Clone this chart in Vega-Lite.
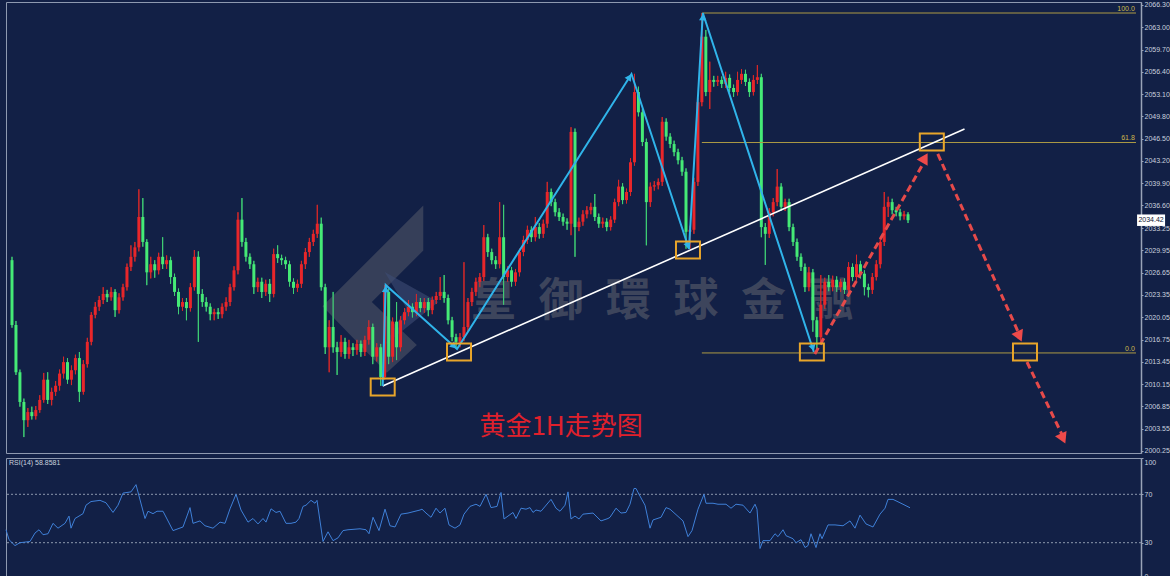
{
"$schema":"https://vega.github.io/schema/vega-lite/v6.json",
"background":"#122046",
"padding":{"left":3,"top":0,"right":0,"bottom":0},
"spacing":2,
"config":{"view":{"stroke":"#8e99b0","strokeWidth":1},"axis":{"grid":false,"domainColor":"#9aa4b8","domainWidth":1.5,"tickColor":"#9aa4b8","tickSize":2,"labelColor":"#c9d1de","labelFont":"Liberation Sans","labelFontSize":7,"labelPadding":1,"labelOverlap":false}},
"datasets":{
"candles":[
{"i":0,"o":2028.5,"h":2029.0,"l":2018.5,"c":2018.9},{"i":1,"o":2018.9,"h":2019.5,"l":2011.5,"c":2011.9},{"i":2,"o":2011.9,"h":2012.3,"l":2006.8,"c":2007.5},{"i":3,"o":2007.5,"h":2008.0,"l":2002.3,"c":2004.8},{"i":4,"o":2004.8,"h":2006.6,"l":2003.8,"c":2006.0},{"i":5,"o":2006.0,"h":2006.8,"l":2004.9,"c":2005.4},{"i":6,"o":2005.4,"h":2006.9,"l":2004.9,"c":2006.3},{"i":7,"o":2006.3,"h":2008.5,"l":2005.9,"c":2007.8},{"i":8,"o":2007.8,"h":2011.8,"l":2007.4,"c":2010.8},{"i":9,"o":2010.8,"h":2011.9,"l":2007.2,"c":2007.8},
{"i":10,"o":2007.8,"h":2009.6,"l":2007.0,"c":2009.0},{"i":11,"o":2009.0,"h":2010.6,"l":2008.4,"c":2009.9},{"i":12,"o":2009.9,"h":2012.3,"l":2009.2,"c":2011.7},{"i":13,"o":2011.7,"h":2014.2,"l":2011.0,"c":2013.4},{"i":14,"o":2013.4,"h":2014.0,"l":2010.2,"c":2010.8},{"i":15,"o":2010.8,"h":2012.9,"l":2010.0,"c":2012.2},{"i":16,"o":2012.2,"h":2014.5,"l":2011.6,"c":2014.0},{"i":17,"o":2014.0,"h":2014.9,"l":2007.5,"c":2009.0},{"i":18,"o":2009.0,"h":2013.7,"l":2008.6,"c":2013.1},{"i":19,"o":2013.1,"h":2017.0,"l":2012.6,"c":2016.4},
{"i":20,"o":2016.4,"h":2020.8,"l":2015.9,"c":2020.4},{"i":21,"o":2020.4,"h":2022.3,"l":2019.9,"c":2021.6},{"i":22,"o":2021.6,"h":2023.2,"l":2021.0,"c":2022.6},{"i":23,"o":2022.6,"h":2024.5,"l":2022.0,"c":2023.5},{"i":24,"o":2023.5,"h":2024.1,"l":2022.3,"c":2023.0},{"i":25,"o":2023.0,"h":2024.5,"l":2022.5,"c":2023.8},{"i":26,"o":2023.8,"h":2024.2,"l":2020.1,"c":2021.1},{"i":27,"o":2021.1,"h":2023.6,"l":2020.6,"c":2023.0},{"i":28,"o":2023.0,"h":2025.0,"l":2022.5,"c":2024.5},{"i":29,"o":2024.5,"h":2028.0,"l":2024.0,"c":2027.5},
{"i":30,"o":2027.5,"h":2030.7,"l":2026.9,"c":2029.0},{"i":31,"o":2029.0,"h":2031.2,"l":2028.3,"c":2030.4},{"i":32,"o":2030.4,"h":2039.0,"l":2029.8,"c":2034.9},{"i":33,"o":2034.9,"h":2037.7,"l":2030.5,"c":2031.2},{"i":34,"o":2031.2,"h":2031.6,"l":2024.8,"c":2026.7},{"i":35,"o":2026.7,"h":2029.0,"l":2025.8,"c":2027.9},{"i":36,"o":2027.9,"h":2028.5,"l":2025.9,"c":2027.0},{"i":37,"o":2027.0,"h":2029.6,"l":2026.4,"c":2029.0},{"i":38,"o":2029.0,"h":2031.9,"l":2027.2,"c":2027.9},{"i":39,"o":2027.9,"h":2029.2,"l":2027.2,"c":2028.5},
{"i":40,"o":2028.5,"h":2029.0,"l":2025.0,"c":2026.0},{"i":41,"o":2026.0,"h":2026.5,"l":2023.2,"c":2023.8},{"i":42,"o":2023.8,"h":2024.3,"l":2020.5,"c":2021.6},{"i":43,"o":2021.6,"h":2022.9,"l":2021.0,"c":2022.3},{"i":44,"o":2022.3,"h":2022.9,"l":2019.6,"c":2021.4},{"i":45,"o":2021.4,"h":2025.1,"l":2020.9,"c":2024.5},{"i":46,"o":2024.5,"h":2030.0,"l":2024.0,"c":2029.0},{"i":47,"o":2029.0,"h":2029.8,"l":2016.4,"c":2023.5},{"i":48,"o":2023.5,"h":2024.2,"l":2021.6,"c":2022.3},{"i":49,"o":2022.3,"h":2023.0,"l":2020.9,"c":2021.6},
{"i":50,"o":2021.6,"h":2022.1,"l":2019.6,"c":2020.5},{"i":51,"o":2020.5,"h":2021.3,"l":2019.6,"c":2020.8},{"i":52,"o":2020.8,"h":2021.4,"l":2019.8,"c":2020.5},{"i":53,"o":2020.5,"h":2022.1,"l":2019.9,"c":2021.6},{"i":54,"o":2021.6,"h":2023.0,"l":2021.0,"c":2022.3},{"i":55,"o":2022.3,"h":2025.0,"l":2021.7,"c":2024.5},{"i":56,"o":2024.5,"h":2027.6,"l":2024.0,"c":2027.0},{"i":57,"o":2027.0,"h":2035.6,"l":2026.4,"c":2034.5},{"i":58,"o":2034.5,"h":2037.7,"l":2030.5,"c":2031.2},{"i":59,"o":2031.2,"h":2031.8,"l":2028.3,"c":2029.0},
{"i":60,"o":2029.0,"h":2029.5,"l":2027.2,"c":2027.9},{"i":61,"o":2027.9,"h":2028.4,"l":2023.5,"c":2024.5},{"i":62,"o":2024.5,"h":2025.9,"l":2023.8,"c":2025.3},{"i":63,"o":2025.3,"h":2025.9,"l":2022.9,"c":2023.8},{"i":64,"o":2023.8,"h":2025.6,"l":2023.2,"c":2025.0},{"i":65,"o":2025.0,"h":2025.7,"l":2022.3,"c":2023.5},{"i":66,"o":2023.5,"h":2030.2,"l":2023.0,"c":2029.4},{"i":67,"o":2029.4,"h":2030.7,"l":2028.1,"c":2028.8},{"i":68,"o":2028.8,"h":2029.3,"l":2027.8,"c":2028.5},{"i":69,"o":2028.5,"h":2029.0,"l":2027.2,"c":2027.9},
{"i":70,"o":2027.9,"h":2028.4,"l":2024.6,"c":2025.3},{"i":71,"o":2025.3,"h":2025.8,"l":2023.5,"c":2024.4},{"i":72,"o":2024.4,"h":2025.6,"l":2023.8,"c":2025.0},{"i":73,"o":2025.0,"h":2028.4,"l":2024.4,"c":2027.9},{"i":74,"o":2027.9,"h":2030.3,"l":2027.2,"c":2029.7},{"i":75,"o":2029.7,"h":2031.8,"l":2029.0,"c":2031.2},{"i":76,"o":2031.2,"h":2033.0,"l":2030.6,"c":2032.4},{"i":77,"o":2032.4,"h":2036.7,"l":2031.8,"c":2033.9},{"i":78,"o":2033.9,"h":2034.8,"l":2024.0,"c":2024.5},{"i":79,"o":2024.5,"h":2025.0,"l":2014.6,"c":2015.6},
{"i":80,"o":2015.6,"h":2019.6,"l":2011.9,"c":2018.6},{"i":81,"o":2018.6,"h":2023.8,"l":2014.8,"c":2015.6},{"i":82,"o":2015.6,"h":2016.4,"l":2011.5,"c":2014.9},{"i":83,"o":2014.9,"h":2017.4,"l":2014.2,"c":2016.4},{"i":84,"o":2016.4,"h":2017.0,"l":2013.9,"c":2014.6},{"i":85,"o":2014.6,"h":2016.7,"l":2013.9,"c":2015.6},{"i":86,"o":2015.6,"h":2016.2,"l":2014.3,"c":2015.2},{"i":87,"o":2015.2,"h":2016.7,"l":2014.5,"c":2016.1},{"i":88,"o":2016.1,"h":2016.6,"l":2014.2,"c":2014.9},{"i":89,"o":2014.9,"h":2017.3,"l":2014.3,"c":2016.7},
{"i":90,"o":2016.7,"h":2019.6,"l":2016.0,"c":2018.6},{"i":91,"o":2018.6,"h":2019.1,"l":2013.1,"c":2014.2},{"i":92,"o":2014.2,"h":2016.2,"l":2013.5,"c":2015.6},{"i":93,"o":2015.6,"h":2016.1,"l":2009.9,"c":2011.2},{"i":94,"o":2011.2,"h":2024.8,"l":2010.8,"c":2023.8},{"i":95,"o":2023.8,"h":2024.3,"l":2013.1,"c":2014.2},{"i":96,"o":2014.2,"h":2020.0,"l":2013.4,"c":2019.4},{"i":97,"o":2019.4,"h":2022.3,"l":2013.7,"c":2015.6},{"i":98,"o":2015.6,"h":2020.2,"l":2015.0,"c":2019.6},{"i":99,"o":2019.6,"h":2021.4,"l":2019.0,"c":2020.8},
{"i":100,"o":2020.8,"h":2022.6,"l":2020.2,"c":2021.6},{"i":101,"o":2021.6,"h":2022.1,"l":2020.0,"c":2020.8},{"i":102,"o":2020.8,"h":2023.5,"l":2020.2,"c":2022.3},{"i":103,"o":2022.3,"h":2022.9,"l":2020.8,"c":2021.4},{"i":104,"o":2021.4,"h":2022.9,"l":2020.7,"c":2022.3},{"i":105,"o":2022.3,"h":2022.9,"l":2020.2,"c":2021.1},{"i":106,"o":2021.1,"h":2023.1,"l":2020.5,"c":2022.6},{"i":107,"o":2022.6,"h":2023.8,"l":2022.0,"c":2023.2},{"i":108,"o":2023.2,"h":2026.0,"l":2022.6,"c":2023.8},{"i":109,"o":2023.8,"h":2026.3,"l":2022.2,"c":2022.9},
{"i":110,"o":2022.9,"h":2023.4,"l":2019.0,"c":2019.6},{"i":111,"o":2019.6,"h":2020.1,"l":2016.5,"c":2017.1},{"i":112,"o":2017.1,"h":2017.6,"l":2015.5,"c":2016.4},{"i":113,"o":2016.4,"h":2017.7,"l":2015.6,"c":2017.1},{"i":114,"o":2017.1,"h":2028.2,"l":2016.5,"c":2018.6},{"i":115,"o":2018.6,"h":2022.9,"l":2018.0,"c":2022.3},{"i":116,"o":2022.3,"h":2024.4,"l":2021.7,"c":2023.8},{"i":117,"o":2023.8,"h":2025.9,"l":2023.2,"c":2025.3},{"i":118,"o":2025.3,"h":2026.6,"l":2024.5,"c":2026.0},{"i":119,"o":2026.0,"h":2033.7,"l":2025.4,"c":2031.9},
{"i":120,"o":2031.9,"h":2032.4,"l":2029.0,"c":2029.7},{"i":121,"o":2029.7,"h":2030.2,"l":2027.9,"c":2028.5},{"i":122,"o":2028.5,"h":2029.1,"l":2027.2,"c":2027.9},{"i":123,"o":2027.9,"h":2037.1,"l":2027.3,"c":2031.9},{"i":124,"o":2031.9,"h":2036.7,"l":2021.9,"c":2026.0},{"i":125,"o":2026.0,"h":2027.6,"l":2025.3,"c":2027.0},{"i":126,"o":2027.0,"h":2027.5,"l":2024.6,"c":2025.3},{"i":127,"o":2025.3,"h":2027.2,"l":2024.7,"c":2026.7},{"i":128,"o":2026.7,"h":2030.2,"l":2026.1,"c":2029.7},{"i":129,"o":2029.7,"h":2032.1,"l":2029.1,"c":2031.5},
{"i":130,"o":2031.5,"h":2033.6,"l":2030.9,"c":2033.0},{"i":131,"o":2033.0,"h":2033.5,"l":2031.2,"c":2031.9},{"i":132,"o":2031.9,"h":2034.9,"l":2031.3,"c":2033.4},{"i":133,"o":2033.4,"h":2034.0,"l":2031.7,"c":2032.4},{"i":134,"o":2032.4,"h":2034.5,"l":2031.8,"c":2033.9},{"i":135,"o":2033.9,"h":2040.1,"l":2033.3,"c":2038.6},{"i":136,"o":2038.6,"h":2039.1,"l":2036.5,"c":2037.1},{"i":137,"o":2037.1,"h":2037.6,"l":2035.0,"c":2035.6},{"i":138,"o":2035.6,"h":2036.2,"l":2034.3,"c":2034.9},{"i":139,"o":2034.9,"h":2035.4,"l":2033.6,"c":2034.2},
{"i":140,"o":2034.2,"h":2034.7,"l":2033.0,"c":2033.9},{"i":141,"o":2033.9,"h":2048.2,"l":2032.2,"c":2047.5},{"i":142,"o":2047.5,"h":2048.0,"l":2029.0,"c":2033.4},{"i":143,"o":2033.4,"h":2034.8,"l":2032.8,"c":2034.2},{"i":144,"o":2034.2,"h":2035.9,"l":2033.6,"c":2035.3},{"i":145,"o":2035.3,"h":2036.5,"l":2034.7,"c":2035.9},{"i":146,"o":2035.9,"h":2037.0,"l":2035.3,"c":2036.4},{"i":147,"o":2036.4,"h":2038.3,"l":2034.3,"c":2034.9},{"i":148,"o":2034.9,"h":2035.4,"l":2033.3,"c":2033.9},{"i":149,"o":2033.9,"h":2034.8,"l":2033.3,"c":2034.2},
{"i":150,"o":2034.2,"h":2034.7,"l":2032.8,"c":2033.4},{"i":151,"o":2033.4,"h":2035.0,"l":2032.9,"c":2034.5},{"i":152,"o":2034.5,"h":2037.6,"l":2034.0,"c":2037.1},{"i":153,"o":2037.1,"h":2040.4,"l":2036.5,"c":2039.4},{"i":154,"o":2039.4,"h":2039.9,"l":2036.8,"c":2037.4},{"i":155,"o":2037.4,"h":2039.1,"l":2036.9,"c":2038.6},{"i":156,"o":2038.6,"h":2043.6,"l":2038.0,"c":2043.0},{"i":157,"o":2043.0,"h":2056.1,"l":2042.5,"c":2053.4},{"i":158,"o":2053.4,"h":2054.2,"l":2049.8,"c":2050.4},{"i":159,"o":2050.4,"h":2050.9,"l":2045.4,"c":2046.0},
{"i":160,"o":2046.0,"h":2046.5,"l":2030.7,"c":2037.1},{"i":161,"o":2037.1,"h":2040.0,"l":2036.4,"c":2039.4},{"i":162,"o":2039.4,"h":2040.2,"l":2038.8,"c":2039.6},{"i":163,"o":2039.6,"h":2040.6,"l":2039.0,"c":2040.1},{"i":164,"o":2040.1,"h":2049.7,"l":2039.5,"c":2049.0},{"i":165,"o":2049.0,"h":2049.5,"l":2046.2,"c":2046.8},{"i":166,"o":2046.8,"h":2047.3,"l":2045.1,"c":2045.7},{"i":167,"o":2045.7,"h":2046.2,"l":2043.9,"c":2044.5},{"i":168,"o":2044.5,"h":2045.0,"l":2042.7,"c":2043.3},{"i":169,"o":2043.3,"h":2043.8,"l":2041.0,"c":2041.6},
{"i":170,"o":2041.6,"h":2042.1,"l":2030.2,"c":2032.7},{"i":171,"o":2032.7,"h":2033.6,"l":2030.2,"c":2033.0},{"i":172,"o":2033.0,"h":2040.7,"l":2032.4,"c":2040.1},{"i":173,"o":2040.1,"h":2052.5,"l":2039.5,"c":2051.9},{"i":174,"o":2051.9,"h":2065.1,"l":2051.3,"c":2061.6},{"i":175,"o":2061.6,"h":2062.6,"l":2052.8,"c":2053.4},{"i":176,"o":2053.4,"h":2057.9,"l":2050.9,"c":2055.2},{"i":177,"o":2055.2,"h":2055.8,"l":2054.2,"c":2054.9},{"i":178,"o":2054.9,"h":2055.8,"l":2054.3,"c":2055.2},{"i":179,"o":2055.2,"h":2055.7,"l":2054.0,"c":2054.6},
{"i":180,"o":2054.6,"h":2056.4,"l":2054.0,"c":2055.5},{"i":181,"o":2055.5,"h":2056.0,"l":2053.4,"c":2054.0},{"i":182,"o":2054.0,"h":2054.5,"l":2052.7,"c":2053.4},{"i":183,"o":2053.4,"h":2056.4,"l":2052.9,"c":2055.2},{"i":184,"o":2055.2,"h":2056.8,"l":2054.6,"c":2056.1},{"i":185,"o":2056.1,"h":2056.7,"l":2054.3,"c":2054.9},{"i":186,"o":2054.9,"h":2055.4,"l":2052.7,"c":2053.4},{"i":187,"o":2053.4,"h":2055.9,"l":2052.9,"c":2055.2},{"i":188,"o":2055.2,"h":2057.4,"l":2054.6,"c":2055.6},{"i":189,"o":2055.6,"h":2056.1,"l":2031.9,"c":2033.4},
{"i":190,"o":2033.4,"h":2034.0,"l":2027.8,"c":2032.4},{"i":191,"o":2032.4,"h":2036.2,"l":2031.8,"c":2035.6},{"i":192,"o":2035.6,"h":2037.7,"l":2035.0,"c":2037.1},{"i":193,"o":2037.1,"h":2042.0,"l":2036.5,"c":2039.4},{"i":194,"o":2039.4,"h":2039.9,"l":2035.8,"c":2036.4},{"i":195,"o":2036.4,"h":2037.6,"l":2035.8,"c":2037.1},{"i":196,"o":2037.1,"h":2037.6,"l":2032.8,"c":2033.4},{"i":197,"o":2033.4,"h":2033.9,"l":2030.6,"c":2031.2},{"i":198,"o":2031.2,"h":2031.7,"l":2028.4,"c":2029.0},{"i":199,"o":2029.0,"h":2029.5,"l":2026.9,"c":2027.5},
{"i":200,"o":2027.5,"h":2028.0,"l":2023.8,"c":2024.5},{"i":201,"o":2024.5,"h":2027.5,"l":2023.9,"c":2026.7},{"i":202,"o":2026.7,"h":2027.2,"l":2017.9,"c":2019.6},{"i":203,"o":2019.6,"h":2020.1,"l":2014.9,"c":2017.1},{"i":204,"o":2017.1,"h":2026.3,"l":2016.5,"c":2021.9},{"i":205,"o":2021.9,"h":2025.9,"l":2021.3,"c":2025.3},{"i":206,"o":2025.3,"h":2026.3,"l":2023.9,"c":2024.5},{"i":207,"o":2024.5,"h":2026.2,"l":2023.9,"c":2025.6},{"i":208,"o":2025.6,"h":2026.1,"l":2023.8,"c":2024.5},{"i":209,"o":2024.5,"h":2025.7,"l":2023.8,"c":2025.3},
{"i":210,"o":2025.3,"h":2025.8,"l":2023.5,"c":2024.1},{"i":211,"o":2024.1,"h":2028.2,"l":2023.5,"c":2027.5},{"i":212,"o":2027.5,"h":2028.0,"l":2025.4,"c":2026.0},{"i":213,"o":2026.0,"h":2029.3,"l":2025.4,"c":2027.9},{"i":214,"o":2027.9,"h":2028.4,"l":2025.8,"c":2026.5},{"i":215,"o":2026.5,"h":2027.0,"l":2023.3,"c":2024.5},{"i":216,"o":2024.5,"h":2025.0,"l":2023.0,"c":2024.1},{"i":217,"o":2024.1,"h":2026.6,"l":2023.5,"c":2026.0},{"i":218,"o":2026.0,"h":2028.5,"l":2025.5,"c":2027.9},{"i":219,"o":2027.9,"h":2031.8,"l":2027.3,"c":2031.2},
{"i":220,"o":2031.2,"h":2038.6,"l":2030.6,"c":2036.4},{"i":221,"o":2036.4,"h":2037.9,"l":2034.9,"c":2037.1},{"i":222,"o":2037.1,"h":2037.6,"l":2035.3,"c":2035.9},{"i":223,"o":2035.9,"h":2036.4,"l":2035.0,"c":2035.6},{"i":224,"o":2035.6,"h":2036.1,"l":2034.4,"c":2035.0},{"i":225,"o":2035.0,"h":2035.8,"l":2034.5,"c":2035.3},{"i":226,"o":2035.3,"h":2035.6,"l":2034.0,"c":2034.42}
],
"rsi":[
{"i":-0.25,"r":40.7},{"i":0.5,"r":32.5},{"i":2,"r":27.6},{"i":3.25,"r":30},{"i":5.75,"r":31},{"i":7,"r":38},{"i":8,"r":40.7},{"i":9,"r":36.6},{"i":10.25,"r":37.4},{"i":11.5,"r":46},{"i":12.75,"r":42},{"i":14.5,"r":46},{"i":15.5,"r":52},{"i":16,"r":42},{"i":17,"r":50},{"i":19,"r":54},{"i":19.75,"r":61},{"i":21,"r":64},{"i":23.25,"r":65},{"i":24.75,"r":63},{"i":26.5,"r":55},{"i":27.75,"r":61},{"i":29,"r":71},{"i":31,"r":72},{"i":32.25,"r":78},{"i":34.5,"r":50},{"i":35.25,"r":56},{"i":36.5,"r":54},{"i":37.5,"r":56},{"i":39,"r":56},{"i":41.5,"r":40},{"i":44,"r":43},{"i":45.75,"r":59},{"i":46.5,"r":46},{"i":48.25,"r":48},{"i":49.5,"r":44},{"i":51.5,"r":42},{"i":53.25,"r":47},{"i":54.5,"r":46},{"i":55.75,"r":58},{"i":57.25,"r":70},{"i":58.5,"r":57},{"i":60.25,"r":47},{"i":61.5,"r":50},{"i":62.75,"r":45.5},{"i":64,"r":50},{"i":64.75,"r":47},{"i":66,"r":58},{"i":67.25,"r":55},{"i":68.25,"r":56},{"i":69.75,"r":46},{"i":71,"r":46},{"i":72.25,"r":47},{"i":73,"r":50},{"i":74,"r":60},{"i":74.75,"r":61},{"i":76,"r":65},{"i":77,"r":62.6},{"i":77.5,"r":65},{"i":79,"r":31},{"i":80.25,"r":39},{"i":81.5,"r":31.7},{"i":82.75,"r":34},{"i":84,"r":40},{"i":85.25,"r":40.7},{"i":88.25,"r":41.5},{"i":89.75,"r":40.7},{"i":90.5,"r":37.4},{"i":91.5,"r":51},{"i":93,"r":40},{"i":94.5,"r":57.7},{"i":95.75,"r":44},{"i":97,"r":43},{"i":98.5,"r":53.6},{"i":100.25,"r":54.5},{"i":103.25,"r":57},{"i":103.75,"r":57.7},{"i":104.75,"r":54.5},{"i":106,"r":51},{"i":107.25,"r":58.5},{"i":108.25,"r":54.5},{"i":109.5,"r":58.5},{"i":110.5,"r":44.7},{"i":112,"r":42},{"i":113.25,"r":44.7},{"i":114.25,"r":53.6},{"i":115.75,"r":60},{"i":117.25,"r":61.8},{"i":118.25,"r":60},{"i":119.75,"r":70},{"i":121,"r":59},{"i":122.5,"r":60},{"i":123.5,"r":71.5},{"i":124.25,"r":49.6},{"i":126.5,"r":55},{"i":127.25,"r":50},{"i":128.5,"r":58.5},{"i":129.75,"r":57.7},{"i":130.75,"r":59},{"i":131.5,"r":55},{"i":132.25,"r":57},{"i":133.5,"r":56},{"i":136,"r":65.8},{"i":137.25,"r":58.5},{"i":138.25,"r":56},{"i":139.5,"r":61},{"i":140.25,"r":72},{"i":141,"r":49.6},{"i":142,"r":52},{"i":143,"r":49.6},{"i":144,"r":53.6},{"i":146.5,"r":54.5},{"i":148.5,"r":48},{"i":150.25,"r":50},{"i":150.75,"r":51},{"i":152.25,"r":58.5},{"i":153.5,"r":54.5},{"i":154.75,"r":55},{"i":155.75,"r":61.8},{"i":156.75,"r":74.8},{"i":157.25,"r":74.8},{"i":158,"r":70},{"i":159.5,"r":61},{"i":160.75,"r":42},{"i":161.5,"r":48.8},{"i":163.5,"r":51},{"i":164.75,"r":59},{"i":165.75,"r":57.7},{"i":169,"r":48},{"i":170.25,"r":35},{"i":171.25,"r":40},{"i":172.75,"r":57.7},{"i":174.25,"r":70},{"i":174.75,"r":62.6},{"i":176.5,"r":62.6},{"i":177.75,"r":61.8},{"i":179.75,"r":61.8},{"i":181,"r":58.5},{"i":182.25,"r":61.8},{"i":184,"r":61},{"i":185.75,"r":54.5},{"i":187,"r":61.8},{"i":187.5,"r":57.7},{"i":188.25,"r":25.2},{"i":189,"r":31.7},{"i":190.75,"r":31.7},{"i":192,"r":37.4},{"i":192.75,"r":35},{"i":194,"r":40.7},{"i":194.75,"r":35.8},{"i":196.5,"r":33.3},{"i":197.25,"r":30},{"i":198.5,"r":32.5},{"i":199.5,"r":26},{"i":200.25,"r":27.6},{"i":201,"r":37.4},{"i":202.25,"r":26},{"i":203.25,"r":37.4},{"i":203.75,"r":33.3},{"i":205.25,"r":44.7},{"i":207,"r":44.7},{"i":209,"r":44},{"i":210.75,"r":48},{"i":212,"r":42},{"i":213.25,"r":52.8},{"i":214.75,"r":45.5},{"i":216.5,"r":43},{"i":218.25,"r":53.6},{"i":219.5,"r":58.5},{"i":220.25,"r":65.8},{"i":221.5,"r":65.8},{"i":223.5,"r":62.6},{"i":225.75,"r":58.86}
]
},
"vconcat":[
{
"width":1135,"height":451,
"resolve":{"axis":{"y":"independent"}},
"layer":[
{"data":{"name":"candles"},"mark":{"type":"rule","strokeWidth":1},
 "encoding":{"x":{"field":"i","type":"quantitative","scale":{"domain":[-0.25,283.5],"nice":false,"zero":false},"axis":null},
  "y":{"field":"l","type":"quantitative","scale":{"domain":[1999.94,2066.74],"nice":false,"zero":false},"title":null,"axis":{"orient":"right","values":[2000.25,2003.55,2006.85,2010.15,2013.45,2016.75,2020.05,2023.35,2026.65,2029.95,2033.25,2036.6,2039.9,2043.2,2046.5,2049.8,2053.1,2056.4,2059.7,2063.0,2066.3],"format":".2f","labelOverlap":false,"title":null}},
  "y2":{"field":"h"},
  "color":{"condition":{"test":"datum.c >= datum.o","value":"#d82828"},"value":"#3fcf74"}}},
{"data":{"values":[{"i":94,"p":2022.3}]},"mark":{"type":"point","shape":"M0.72,-1.8L-1.16,0.08L0.04,1.32L0.6,0.8L-0.24,0L0.72,-0.96Z","size":11500,"filled":true,"fill":"#5a5e6c","opacity":0.5,"strokeWidth":0},
 "encoding":{"x":{"field":"i","type":"quantitative","axis":null},"y":{"field":"p","type":"quantitative","axis":null}}},
{"data":{"values":[{"i":94,"p":2022.3}]},"mark":{"type":"point","shape":"M0,-0.56L1,0L0,0.8L0.4,0.1Z","size":11500,"filled":true,"fill":"#3e4c74","opacity":0.6,"strokeWidth":0},
 "encoding":{"x":{"field":"i","type":"quantitative","axis":null},"y":{"field":"p","type":"quantitative","axis":null}}},
{"data":{"values":[{"t":"皇\u2002御\u2002環\u2002球\u2002金\u2002融","i":164,"p":2022.3}]},"mark":{"type":"text","font":"Noto Sans CJK TC","fontSize":45,"fontWeight":"bold","fill":"#5b5e6b","opacity":0.6,"align":"center","baseline":"middle"},
 "encoding":{"x":{"field":"i","type":"quantitative","axis":null},"y":{"field":"p","type":"quantitative","axis":null},"text":{"field":"t","type":"nominal"}}},
{"data":{"name":"candles"},"mark":{"type":"rule","strokeWidth":1},
 "encoding":{"x":{"field":"i","type":"quantitative","axis":null},"y":{"field":"l","type":"quantitative","axis":null},"y2":{"field":"h"},
  "color":{"condition":{"test":"datum.c >= datum.o","value":"#d82828"},"value":"#3fcf74"}}},
{"data":{"name":"candles"},"mark":{"type":"bar","width":3},
 "encoding":{"x":{"field":"i","type":"quantitative","axis":null},"y":{"field":"o","type":"quantitative","axis":null},"y2":{"field":"c"},
  "color":{"condition":{"test":"datum.c >= datum.o","value":"#e8262a"},"value":"#45ea76"}}},
{"data":{"values":[{"lv":"100.0","p":2065.11,"x1":174,"x2":283.5},{"lv":"61.8","p":2045.93,"x1":174,"x2":283.5},{"lv":"0.0","p":2014.76,"x1":174,"x2":283.5}]},"mark":{"type":"rule","color":"#ad9a44","strokeWidth":1},
 "encoding":{"x":{"field":"x1","type":"quantitative","axis":null},"x2":{"field":"x2"},"y":{"field":"p","type":"quantitative","axis":null}}},
{"data":{"values":[{"lv":"100.0","p":2065.11,"x1":283.2},{"lv":"61.8","p":2045.93,"x1":283.2},{"lv":"0.0","p":2014.76,"x1":283.2}]},"mark":{"type":"text","align":"right","baseline":"bottom","dy":-1,"font":"Liberation Sans","fontSize":7,"fill":"#cdb84c"},
 "encoding":{"x":{"field":"x1","type":"quantitative","axis":null},"y":{"field":"p","type":"quantitative","axis":null},"text":{"field":"lv","type":"nominal"}}},
{"data":{"values":[{"i":93.5,"p":2009.87},{"i":240.25,"p":2047.94}]},"mark":{"type":"line","color":"#ffffff","strokeWidth":1.6},
 "encoding":{"x":{"field":"i","type":"quantitative","axis":null},"y":{"field":"p","type":"quantitative","axis":null}}},
{"data":{"values":[{"k":1,"i":93.5,"p":2009.87},{"k":2,"i":94.25,"p":2024.83},{"k":3,"i":112.25,"p":2015.35},{"k":4,"i":156.25,"p":2056.08},{"k":5,"i":170.75,"p":2030.16},{"k":6,"i":174.25,"p":2065.11},{"k":7,"i":202.25,"p":2014.9}]},"mark":{"type":"line","color":"#30b4ea","strokeWidth":2},
 "encoding":{"x":{"field":"i","type":"quantitative","axis":null},"y":{"field":"p","type":"quantitative","axis":null},"order":{"field":"k","type":"quantitative"}}},
{"data":{"values":[{"i":94.25,"p":2024.23},{"i":174.25,"p":2064.5}]},"mark":{"type":"point","shape":"triangle-up","size":55,"filled":true,"color":"#30b4ea","opacity":1,"angle":2.5},
 "encoding":{"x":{"field":"i","type":"quantitative","axis":null},"y":{"field":"p","type":"quantitative","axis":null}}},
{"data":{"values":[{"i":111.5,"p":2015.75}]},"mark":{"type":"point","shape":"triangle-up","size":55,"filled":true,"color":"#30b4ea","opacity":1,"angle":132},
 "encoding":{"x":{"field":"i","type":"quantitative","axis":null},"y":{"field":"p","type":"quantitative","axis":null}}},
{"data":{"values":[{"i":155.75,"p":2055.63}]},"mark":{"type":"point","shape":"triangle-up","size":55,"filled":true,"color":"#30b4ea","opacity":1,"angle":33},
 "encoding":{"x":{"field":"i","type":"quantitative","axis":null},"y":{"field":"p","type":"quantitative","axis":null}}},
{"data":{"values":[{"i":170.5,"p":2030.6},{"i":202,"p":2015.5}]},"mark":{"type":"point","shape":"triangle-up","size":55,"filled":true,"color":"#30b4ea","opacity":1,"angle":162},
 "encoding":{"x":{"field":"i","type":"quantitative","axis":null},"y":{"field":"p","type":"quantitative","axis":null}}},
{"data":{"values":[{"s":"a","k":1,"i":202.5,"p":2014.61},{"s":"a","k":2,"i":230.5,"p":2043.5},{"s":"b","k":1,"i":233.5,"p":2044.23},{"s":"b","k":2,"i":254.3,"p":2017.2},{"s":"c","k":1,"i":256,"p":2013.42},{"s":"c","k":2,"i":265.3,"p":2002.1}]},"mark":{"type":"line","color":"#e64a4a","strokeWidth":3,"strokeDash":[7,4],"strokeCap":"butt"},
 "encoding":{"x":{"field":"i","type":"quantitative","axis":null},"y":{"field":"p","type":"quantitative","axis":null},"detail":{"field":"s","type":"nominal"},"order":{"field":"k","type":"quantitative"}}},
{"data":{"values":[{"i":230.25,"p":2043.64}]},"mark":{"type":"point","shape":"triangle-up","size":160,"filled":true,"color":"#ee4a4a","opacity":1,"angle":30},
 "encoding":{"x":{"field":"i","type":"quantitative","axis":null},"y":{"field":"p","type":"quantitative","axis":null}}},
{"data":{"values":[{"i":254.1,"p":2017.2},{"i":265.1,"p":2002.08}]},"mark":{"type":"point","shape":"triangle-up","size":160,"filled":true,"color":"#ee4a4a","opacity":1,"angle":155.5},
 "encoding":{"x":{"field":"i","type":"quantitative","axis":null},"y":{"field":"p","type":"quantitative","axis":null}}},
{"data":{"values":[{"i":93.5,"p":2009.72},{"i":112.75,"p":2014.9},{"i":170.5,"p":2030.01},{"i":201.75,"p":2014.9},{"i":232,"p":2046.01},{"i":255.5,"p":2014.9}]},"mark":{"type":"point","shape":"M-2.4,-1.7H2.4V1.7H-2.4Z","size":100,"filled":false,"stroke":"#e8a52a","strokeWidth":2,"opacity":1},
 "encoding":{"x":{"field":"i","type":"quantitative","axis":null},"y":{"field":"p","type":"quantitative","axis":null}}},
{"data":{"values":[{"t":"黄金1H走势图","i":138.5,"p":2003.8}]},"mark":{"type":"text","font":"Noto Sans CJK SC","fontSize":26,"fill":"#e0202c","align":"center","baseline":"middle"},
 "encoding":{"x":{"field":"i","type":"quantitative","axis":null},"y":{"field":"p","type":"quantitative","axis":null},"text":{"field":"t","type":"nominal"}}},
{"data":{"values":[{"t":"2034.42","i":287.3,"p":2034.42}]},"mark":{"type":"point","shape":"M-2.8,-1.15H2.8V1.15H-2.8Z","size":100,"filled":true,"fill":"#ffffff","strokeWidth":0,"opacity":1},
 "encoding":{"x":{"field":"i","type":"quantitative","axis":null},"y":{"field":"p","type":"quantitative","axis":null}}},
{"data":{"values":[{"t":"2034.42","i":287.3,"p":2034.42}]},"mark":{"type":"text","font":"Liberation Sans","fontSize":7,"fill":"#0c1632","align":"center","baseline":"middle"},
 "encoding":{"x":{"field":"i","type":"quantitative","axis":null},"y":{"field":"p","type":"quantitative","axis":null},"text":{"field":"t","type":"nominal"}}}
]
},
{
"width":1135,"height":121,
"resolve":{"axis":{"y":"independent"}},
"layer":[
{"data":{"values":[{"lvl":70},{"lvl":30}]},"mark":{"type":"rule","color":"#8d98ad","strokeWidth":1,"strokeDash":[2,2]},
 "encoding":{"y":{"field":"lvl","type":"quantitative","scale":{"domain":[0,100],"nice":false,"zero":false},"title":null,"axis":{"orient":"right","values":[0,30,70,100],"labelFlush":false,"labelBaseline":{"condition":[{"test":"datum.value == 0","value":"bottom"},{"test":"datum.value == 100","value":"top"}],"value":"middle"},"format":"d","title":null}}}},
{"data":{"name":"rsi"},"mark":{"type":"line","color":"#3f80d8","strokeWidth":1},
 "encoding":{"x":{"field":"i","type":"quantitative","scale":{"domain":[-0.25,283.5],"nice":false,"zero":false},"axis":null},"y":{"field":"r","type":"quantitative","axis":null}}},
{"data":{"values":[{"t":"RSI(14) 58.8581","i":0.5,"r":96}]},"mark":{"type":"text","font":"Liberation Sans","fontSize":7,"fill":"#c9d1de","align":"left","baseline":"middle"},
 "encoding":{"x":{"field":"i","type":"quantitative","axis":null},"y":{"field":"r","type":"quantitative","axis":null},"text":{"field":"t","type":"nominal"}}}
]
}
]
}
